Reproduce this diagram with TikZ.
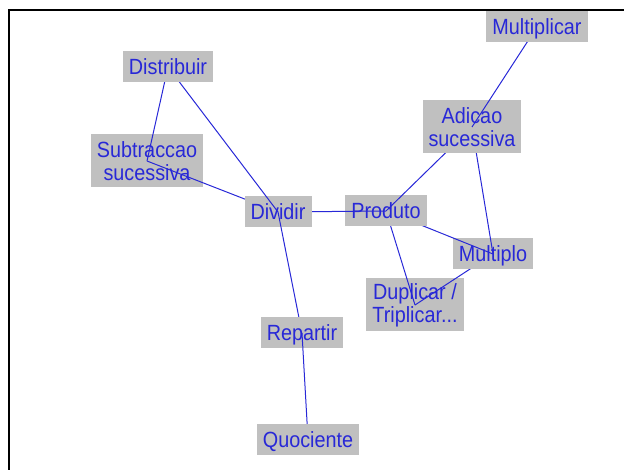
\documentclass[tikz,border=0pt]{standalone}
\usepackage{fontspec}
\newfontfamily\mapfont{Liberation Sans}[FakeStretch=0.9]

\definecolor{boxgray}{RGB}{192,192,192}
\definecolor{inkblue}{RGB}{40,40,215}

\tikzset{
	conceptbase/.style={fill=boxgray, text=inkblue,
		font=\mapfont\fontsize{22}{23}\selectfont,
		inner xsep=6pt, inner ysep=0pt},
	concept/.style={conceptbase, minimum height=31pt,
		text height=16pt, text depth=0pt},
	concepttwo/.style={conceptbase, align=center, minimum height=53pt},
	link/.style={inkblue, line width=1pt},
}

\begin{document}
\begin{tikzpicture}[x=1pt, y=-1pt]

	\useasboundingbox (0,0) rectangle (624,470);

	% frame
	\draw [line width=2pt] (624,10) -| (9,470);

	% centres
	\coordinate (cDup)   at (415,305);
	\coordinate (cMltp)  at (493,254);
	\coordinate (cProd)  at (386,211);
	\coordinate (cAdic)  at (472,127);
	\coordinate (cMult)  at (537,27);
	\coordinate (cSubt)  at (147,161);
	\coordinate (cDiv)   at (278,212);
	\coordinate (cDist)  at (168,67);
	\coordinate (cRep)   at (302,333);
	\coordinate (cQuoc)  at (308,439);

	% right part
	\node [concepttwo] (duplicar) at (cDup) {Duplicar /\\Triplicar...};
	\draw [link]
		(cProd) -- (cDup)
		(cMltp) -- (cDup);
	\node [concept] (multiplo) at (cMltp) {Multiplo};
	\draw [link]
		(cProd) -- (cMltp)
		(cAdic) -- (cMltp);
	\node [concept] (produto) at (cProd) {Produto};
	\draw [link]
		(cAdic) -- (cProd)
		(cDiv) -- (cProd);
	\node [concepttwo] (adicao) at (cAdic) {Adicao\\sucessiva};
	\draw [link] (cMult) -- (cAdic);
	\node [concept] (multiplicar) at (cMult) {Multiplicar};

	% left part
	\node [concepttwo] (subtraccao) at (cSubt) {Subtraccao\\sucessiva};
	\draw [link]
		(cDist) -- (cSubt)
		(cSubt) -- (cDiv);
	\node [concept] (dividir) at (cDiv) {Dividir};
	\draw [link]
		(cDist) -- (cDiv)
		(cDiv) -- (cRep);
	\node [concept] (distribuir) at (cDist) {Distribuir};
	\node [concept] (repartir) at (cRep) {Repartir};
	\draw [link] (cRep) -- (cQuoc);
	\node [concept] (quociente) at (cQuoc) {Quociente};

\end{tikzpicture}
\end{document}
